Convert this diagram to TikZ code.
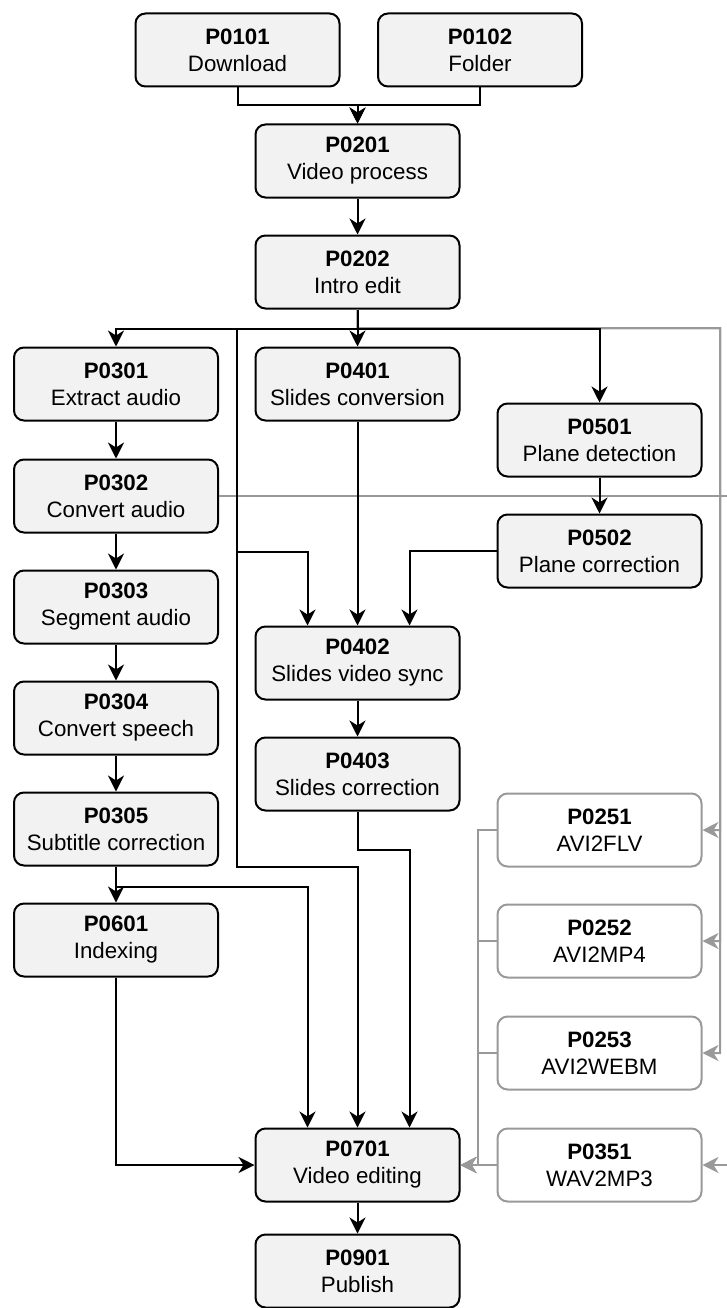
\documentclass[tikz,border=0pt]{standalone}
\usepackage{fontspec}
\setmainfont{Liberation Sans}
\usetikzlibrary{arrows.meta}
\definecolor{boxfill}{HTML}{F2F2F2}
\definecolor{gline}{HTML}{999999}
\begin{document}
\begin{tikzpicture}[x=1pt,y=-1pt,
  proc/.style={draw=black, line width=2pt, fill=boxfill, rounded corners=10pt,
    minimum width=204pt, minimum height=73pt, inner sep=0pt, align=center,
    font=\fontsize{22.3}{27}\selectfont},
  gproc/.style={proc, draw=gline, fill=white},
  arr/.style={draw=black, line width=2pt, -{Stealth[length=16pt,width=16pt,inset=5pt]}},
  garr/.style={draw=gline, line width=2pt, -{Stealth[length=16pt,width=16pt,inset=5pt]}}
]
\useasboundingbox (0,0) rectangle (727,1308);

\node[proc] (P0101) at (237.5,50) {\textbf{P0101}\\Download};
\node[proc] (P0102) at (480,50) {\textbf{P0102}\\Folder};
\node[proc] (P0201) at (357.5,161) {\textbf{P0201}\\Video process};
\node[proc] (P0202) at (357.5,272) {\textbf{P0202}\\Intro edit};
\node[proc] (P0301) at (116,384) {\textbf{P0301}\\Extract audio};
\node[proc] (P0401) at (357.5,384) {\textbf{P0401}\\Slides conversion};
\node[proc] (P0501) at (599.5,440) {\textbf{P0501}\\Plane detection};
\node[proc] (P0302) at (116,496) {\textbf{P0302}\\Convert audio};
\node[proc] (P0502) at (599.5,551) {\textbf{P0502}\\Plane correction};
\node[proc] (P0303) at (116,607) {\textbf{P0303}\\Segment audio};
\node[proc] (P0402) at (357.5,663) {\textbf{P0402}\\Slides video sync};
\node[proc] (P0304) at (116,718) {\textbf{P0304}\\Convert speech};
\node[proc] (P0403) at (357.5,774) {\textbf{P0403}\\Slides correction};
\node[proc] (P0305) at (116,829) {\textbf{P0305}\\Subtitle correction};
\node[proc] (P0601) at (116,940) {\textbf{P0601}\\Indexing};
\node[gproc] (P0251) at (599.5,830) {\textbf{P0251}\\AVI2FLV};
\node[gproc] (P0252) at (599.5,941) {\textbf{P0252}\\AVI2MP4};
\node[gproc] (P0253) at (599.5,1053) {\textbf{P0253}\\AVI2WEBM};
\node[proc] (P0701) at (357.5,1165) {\textbf{P0701}\\Video editing};
\node[gproc] (P0351) at (599.5,1165) {\textbf{P0351}\\WAV2MP3};
\node[proc] (P0901) at (357.5,1271) {\textbf{P0901}\\Publish};

\coordinate (gr) at (720,328);
\coordinate (gr2) at (731,496);
\coordinate (lv1) at (237,552);
\coordinate (lv2) at (237,867);

% gray connectors
\draw[garr] (P0202.south) -- ++(0,19) -- (gr) |- (P0251.east);
\draw[garr] (P0202.south) -- ++(0,19) -- (gr) |- (P0252.east);
\draw[garr] (P0202.south) -- ++(0,19) -- (gr) |- (P0253.east);
\draw[garr] (P0302.east) -- (gr2) |- (P0351.east);
\draw[garr] (P0251.west) -- ++(-19,0) |- (P0701.east);
\draw[garr] (P0252.west) -- ++(-19,0) |- (P0701.east);
\draw[garr] (P0253.west) -- ++(-19,0) |- (P0701.east);
\draw[garr] (P0351.west) -- (P0701.east);

% black connectors
\draw[arr] (P0101.south) -- ++(0,18) -| (P0201.north);
\draw[arr] (P0102.south) -- ++(0,18) -| (P0201.north);
\draw[arr] (P0201) -- (P0202);
\draw[arr] (P0202.south) -- ++(0,19) -| (P0301.north);
\draw[arr] (P0202) -- (P0401);
\draw[arr] (P0202.south) -- ++(0,19) -| (P0501.north);
\draw[arr] (P0202.south) -- ++(0,19) -| (lv1) -| ([xshift=-50pt]P0402.north);
\draw[arr] (P0202.south) -- ++(0,19) -| (lv2) -| (P0701.north);
\draw[arr] (P0401) -- (P0402);
\draw[arr] (P0501) -- (P0502);
\draw[arr] (P0502.west) -| ([xshift=52pt]P0402.north);
\draw[arr] (P0402) -- (P0403);
\draw[arr] (P0403.south) -- ++(0,38) -| ([xshift=52pt]P0701.north);
\draw[arr] (P0301) -- (P0302);
\draw[arr] (P0302) -- (P0303);
\draw[arr] (P0303) -- (P0304);
\draw[arr] (P0304) -- (P0305);
\draw[arr] (P0305) -- (P0601);
\draw[arr] (P0305.south) -- ++(0,20) -| ([xshift=-50pt]P0701.north);
\draw[arr] (P0601.south) |- (P0701.west);
\draw[arr] (P0701) -- (P0901);
\end{tikzpicture}
\end{document}
